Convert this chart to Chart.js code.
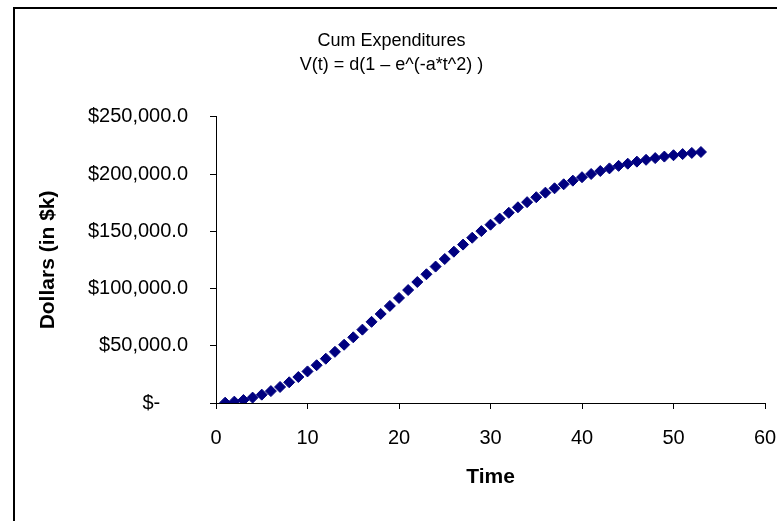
<!DOCTYPE html>
<html>
<head>
<meta charset="utf-8">
<script src="https://cdn.jsdelivr.net/npm/chart.js@4.4.0/dist/chart.umd.min.js"></script>
<style>
  html, body { margin: 0; padding: 0; background: #fff; }
  #wrap { position: relative; width: 777px; height: 521px; overflow: hidden; }
  #frame { position: absolute; left: 13px; top: 7px; width: 800px; height: 600px;
           border-left: 2px solid #000; border-top: 2px solid #000; box-sizing: border-box; }
  canvas { position: absolute; left: 0; top: 0; }
</style>
</head>
<body>
<div id="wrap">
  <div id="frame"></div>
  <canvas id="chart" width="777" height="521"></canvas>
</div>
<script>
// Cum expenditures, values (t = 1..53)
const times = [1, 2, 3, 4, 5, 6, 7, 8, 9, 10, 11, 12, 13, 14, 15, 16, 17, 18, 19, 20,
    21, 22, 23, 24, 25, 26, 27, 28, 29, 30, 31, 32, 33, 34, 35, 36, 37, 38, 39, 40,
    41, 42, 43, 44, 45, 46, 47, 48, 49, 50, 51, 52, 53];
const dollars = [300, 1200, 2600, 4700, 7300, 10400, 14000, 18100, 22700, 27600,
    33000, 38700, 44700, 50900, 57400, 64100, 70900, 77800, 84800, 91800,
    98700, 105700, 112500, 119200, 125800, 132200, 138400, 144400, 150200, 155800,
    161100, 166200, 171000, 175500, 179800, 183800, 187600, 191100, 194300, 197300,
    200100, 202700, 205000, 207200, 209100, 210900, 212500, 214000, 215300, 216500,
    217500, 218500, 219300];
const xTicks = [0, 10, 20, 30, 40, 50, 60];
const yTicks = [0, 50000, 100000, 150000, 200000, 250000];
const titleLines = ['Cum Expenditures', 'V(t) = d(1 \u2013 e^(-a*t^2) )'];

const FONT = "'Liberation Sans', Arial, sans-serif";

function dollarLabel(v) {
    if (v === 0) return '$-     ';
    return '$' + v.toLocaleString('en-US', { minimumFractionDigits: 1, maximumFractionDigits: 1 });
}

const ctx = document.getElementById('chart');
new Chart(ctx, {
    type: 'scatter',
    data: {
        datasets: [{
            data: times.map((t, i) => ({ x: t, y: dollars[i] })),
            pointStyle: 'rectRot',
            pointRadius: 5.5,
            backgroundColor: '#000080',
            borderColor: '#000080',
            borderWidth: 1,
            showLine: false
        }]
    },
    options: {
        responsive: false,
        animation: false,
        layout: { padding: { left: 18, right: 12, top: 0, bottom: 0 } },
        plugins: {
            legend: { display: false },
            tooltip: { enabled: false },
            title: {
                display: true,
                text: titleLines,
                color: '#000',
                font: { family: FONT, size: 18, weight: 'normal', lineHeight: 1.33 },
                padding: { top: 29, bottom: 40 }
            }
        },
        scales: {
            x: {
                type: 'linear',
                min: 0, max: 60,
                afterBuildTicks: axis => { axis.ticks = xTicks.map(v => ({ value: v })); },
                afterFit: axis => { axis.height = 118; axis.paddingRight = 0; axis.paddingLeft = 0; },
                grid: { display: true, drawOnChartArea: false, drawTicks: true, tickLength: 6, color: '#000' },
                border: { display: true, color: '#000', width: 1 },
                ticks: { color: '#000', font: { family: FONT, size: 20 }, padding: 17, maxRotation: 0 },
                title: {
                    display: true, text: 'Time', color: '#000',
                    font: { family: FONT, size: 21, weight: 'bold' },
                    padding: { top: 0, bottom: 31 }
                }
            },
            y: {
                type: 'linear',
                min: 0, max: 250000,
                afterBuildTicks: axis => { axis.ticks = yTicks.map(v => ({ value: v })); },
                afterFit: axis => { axis.width = 216 - 18; },
                grid: { display: true, drawOnChartArea: false, drawTicks: true, tickLength: 6, color: '#000' },
                border: { display: true, color: '#000', width: 1 },
                ticks: { color: '#000', font: { family: FONT, size: 20 }, padding: 22, callback: v => dollarLabel(v) },
                title: {
                    display: true, text: 'Dollars (in $k)', color: '#000',
                    font: { family: FONT, size: 21, weight: 'bold' },
                    padding: { top: 18, bottom: 0 }
                }
            }
        }
    }
});
</script>
</body>
</html>
